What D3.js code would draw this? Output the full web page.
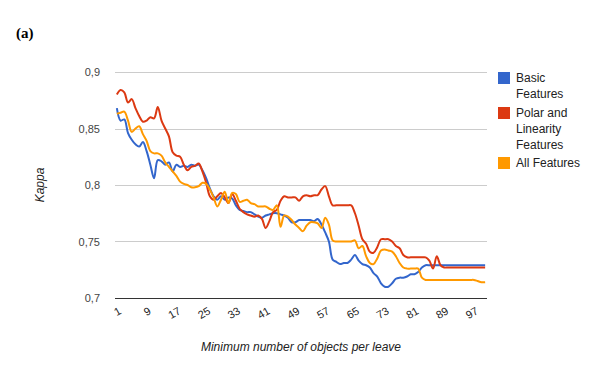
<!DOCTYPE html>
<html>
<head>
<meta charset="utf-8">
<script src="https://cdn.jsdelivr.net/npm/d3@7"></script>
<style>
  body { margin: 0; background: #fff; }
  svg { font-family: Arial, "Liberation Sans", sans-serif; }
</style>
</head>
<body>
<svg id="chart" width="600" height="371"></svg>
<script>
// minimum number of objects per leave: 1..100
var leaves = d3.range(1, 101);
var xTicks = [1, 9, 17, 25, 33, 41, 49, 57, 65, 73, 81, 89, 97];
var yTicks = [0.7, 0.75, 0.8, 0.85, 0.9];

var seriesNames = ["Basic Features", "Polar and Linearity Features", "All Features"];
var legendLines = [["Basic", "Features"], ["Polar and", "Linearity", "Features"], ["All Features"]];

var basic = [
  0.868, 0.857, 0.858, 0.846, 0.840, 0.836, 0.834, 0.838, 0.830, 0.818,
  0.806, 0.822, 0.821, 0.818, 0.820, 0.812, 0.818, 0.816, 0.817, 0.816,
  0.818, 0.817, 0.818, 0.813, 0.806, 0.797, 0.790, 0.787, 0.790, 0.787,
  0.789, 0.788, 0.782, 0.778, 0.777, 0.776, 0.776, 0.774, 0.772, 0.771,
  0.773, 0.774, 0.775, 0.775, 0.774, 0.773, 0.771, 0.767, 0.767, 0.769,
  0.769, 0.769, 0.769, 0.768, 0.770, 0.765, 0.758, 0.750, 0.734, 0.732,
  0.730, 0.731, 0.731, 0.734, 0.738, 0.733, 0.730, 0.729, 0.727, 0.722,
  0.719, 0.713, 0.710, 0.710, 0.713, 0.717, 0.718, 0.718, 0.719, 0.721,
  0.721, 0.723, 0.727, 0.729, 0.729, 0.729, 0.729, 0.729, 0.729, 0.729,
  0.729, 0.729, 0.729, 0.729, 0.729, 0.729, 0.729, 0.729, 0.729, 0.729
];
var polar = [
  0.880, 0.884, 0.882, 0.873, 0.876, 0.868, 0.861, 0.856, 0.857, 0.860,
  0.859, 0.869, 0.857, 0.850, 0.843, 0.829, 0.826, 0.825, 0.818, 0.813,
  0.816, 0.817, 0.819, 0.812, 0.802, 0.790, 0.787, 0.790, 0.793, 0.789,
  0.784, 0.792, 0.786, 0.779, 0.776, 0.774, 0.773, 0.772, 0.773, 0.770,
  0.762, 0.768, 0.776, 0.778, 0.786, 0.790, 0.789, 0.789, 0.789, 0.786,
  0.790, 0.791, 0.790, 0.791, 0.791, 0.796, 0.799, 0.790, 0.782, 0.782,
  0.782, 0.782, 0.782, 0.782, 0.775, 0.764, 0.752, 0.748, 0.741, 0.740,
  0.745, 0.752, 0.752, 0.752, 0.750, 0.746, 0.744, 0.738, 0.736, 0.736,
  0.736, 0.736, 0.736, 0.736, 0.733, 0.726, 0.737, 0.729, 0.727, 0.727,
  0.727, 0.727, 0.727, 0.727, 0.727, 0.727, 0.727, 0.727, 0.727, 0.727
];
var allFeatures = [
  0.863, 0.864, 0.865, 0.857, 0.847, 0.850, 0.852, 0.845, 0.839, 0.830,
  0.828, 0.828, 0.826, 0.820, 0.816, 0.812, 0.808, 0.803, 0.801, 0.800,
  0.798, 0.798, 0.799, 0.802, 0.801, 0.796, 0.789, 0.781, 0.787, 0.794,
  0.784, 0.793, 0.792, 0.785, 0.786, 0.787, 0.784, 0.783, 0.781, 0.781,
  0.781, 0.779, 0.778, 0.782, 0.763, 0.773, 0.772, 0.769, 0.765, 0.762,
  0.759, 0.764, 0.767, 0.767, 0.766, 0.762, 0.771, 0.765, 0.751, 0.750,
  0.750, 0.750, 0.750, 0.750, 0.751, 0.744, 0.746, 0.737, 0.731, 0.730,
  0.735, 0.742, 0.743, 0.742, 0.741, 0.737, 0.731, 0.727, 0.726, 0.726,
  0.726, 0.726, 0.718, 0.716, 0.716, 0.716, 0.716, 0.716, 0.716, 0.716,
  0.716, 0.716, 0.716, 0.716, 0.716, 0.716, 0.716, 0.715, 0.714, 0.714
];
var colors = ["#3366cc", "#dc3912", "#ff9900"];

var svg = d3.select("#chart");
var margin = {top: 72, left: 115, right: 113, bottom: 73};
var width = 600 - margin.left - margin.right,
    height = 371 - margin.top - margin.bottom;

var g = svg.append("g")
    .attr("transform", "translate(" + margin.left + "," + margin.top + ")");

var x = d3.scaleBand().domain(leaves).range([0, width]);
var y = d3.scaleLinear().domain([0.7, 0.9]).range([height, 0]);

var commaFmt = d3.formatLocale({decimal: ",", thousands: ".", grouping: [3], currency: ["", ""]}).format("~g");

// gridlines + y labels
g.append("g").selectAll("line")
    .data(yTicks.slice(1))
    .enter().append("line")
    .attr("x1", 0).attr("x2", width)
    .attr("y1", function(d) { return Math.round(y(d)) + 0.5; })
    .attr("y2", function(d) { return Math.round(y(d)) + 0.5; })
    .attr("stroke", "#cccccc");

var yAxis = g.append("g")
    .attr("transform", "translate(-12,0)")
    .call(d3.axisLeft(y).tickValues(yTicks).tickSize(0).tickFormat(commaFmt));
yAxis.select(".domain").remove();
yAxis.attr("font-family", null);
yAxis.selectAll("text").attr("font-size", 11).attr("fill", "#444");

// series
var line = d3.line()
    .x(function(d, i) { return x(leaves[i]) + x.bandwidth() / 2; })
    .y(function(d) { return y(d); })
    .curve(d3.curveCatmullRom.alpha(0.5));

[basic, polar, allFeatures].forEach(function(s, k) {
  g.append("path")
    .datum(s)
    .attr("d", line)
    .attr("fill", "none")
    .attr("stroke", colors[k])
    .attr("stroke-width", 2);
});

// x baseline
g.append("line")
    .attr("x1", 0).attr("x2", width)
    .attr("y1", height + 0.5).attr("y2", height + 0.5)
    .attr("stroke", "#333");

// x labels, slanted
g.append("g").selectAll("text")
    .data(xTicks)
    .enter().append("text")
    .attr("transform", function(d) {
      return "translate(" + (x(d) + x.bandwidth() / 2 + 1) + "," + (height + 8) + ") rotate(-30)";
    })
    .attr("text-anchor", "end")
    .attr("dy", "0.75em")
    .attr("font-size", 11)
    .attr("fill", "#222")
    .text(function(d) { return d; });

// axis titles
svg.append("text")
    .attr("x", 301).attr("y", 351)
    .attr("text-anchor", "middle")
    .attr("font-size", 12)
    .attr("font-style", "italic")
    .attr("fill", "#222")
    .text("Minimum number of objects per leave");

svg.append("text")
    .attr("transform", "translate(44,185) rotate(-90)")
    .attr("text-anchor", "middle")
    .attr("font-size", 12)
    .attr("font-style", "italic")
    .attr("fill", "#222")
    .text("Kappa");

svg.append("text")
    .attr("x", 16).attr("y", 38)
    .style("font-family", "'Liberation Serif', 'Times New Roman', serif")
    .attr("font-weight", "bold")
    .attr("font-size", 15)
    .text("(a)");

// legend
var legendY = [72, 107, 157];
var lg = svg.append("g");
seriesNames.forEach(function(name, k) {
  var item = lg.append("g").attr("transform", "translate(498," + legendY[k] + ")");
  item.append("rect").attr("width", 12).attr("height", 12).attr("fill", colors[k]);
  item.selectAll("text")
    .data(legendLines[k])
    .enter().append("text")
    .attr("x", 18)
    .attr("y", function(d, i) { return 10 + i * 16; })
    .attr("font-size", 12)
    .attr("fill", "#222")
    .text(function(d) { return d; });
});
</script>
</body>
</html>
